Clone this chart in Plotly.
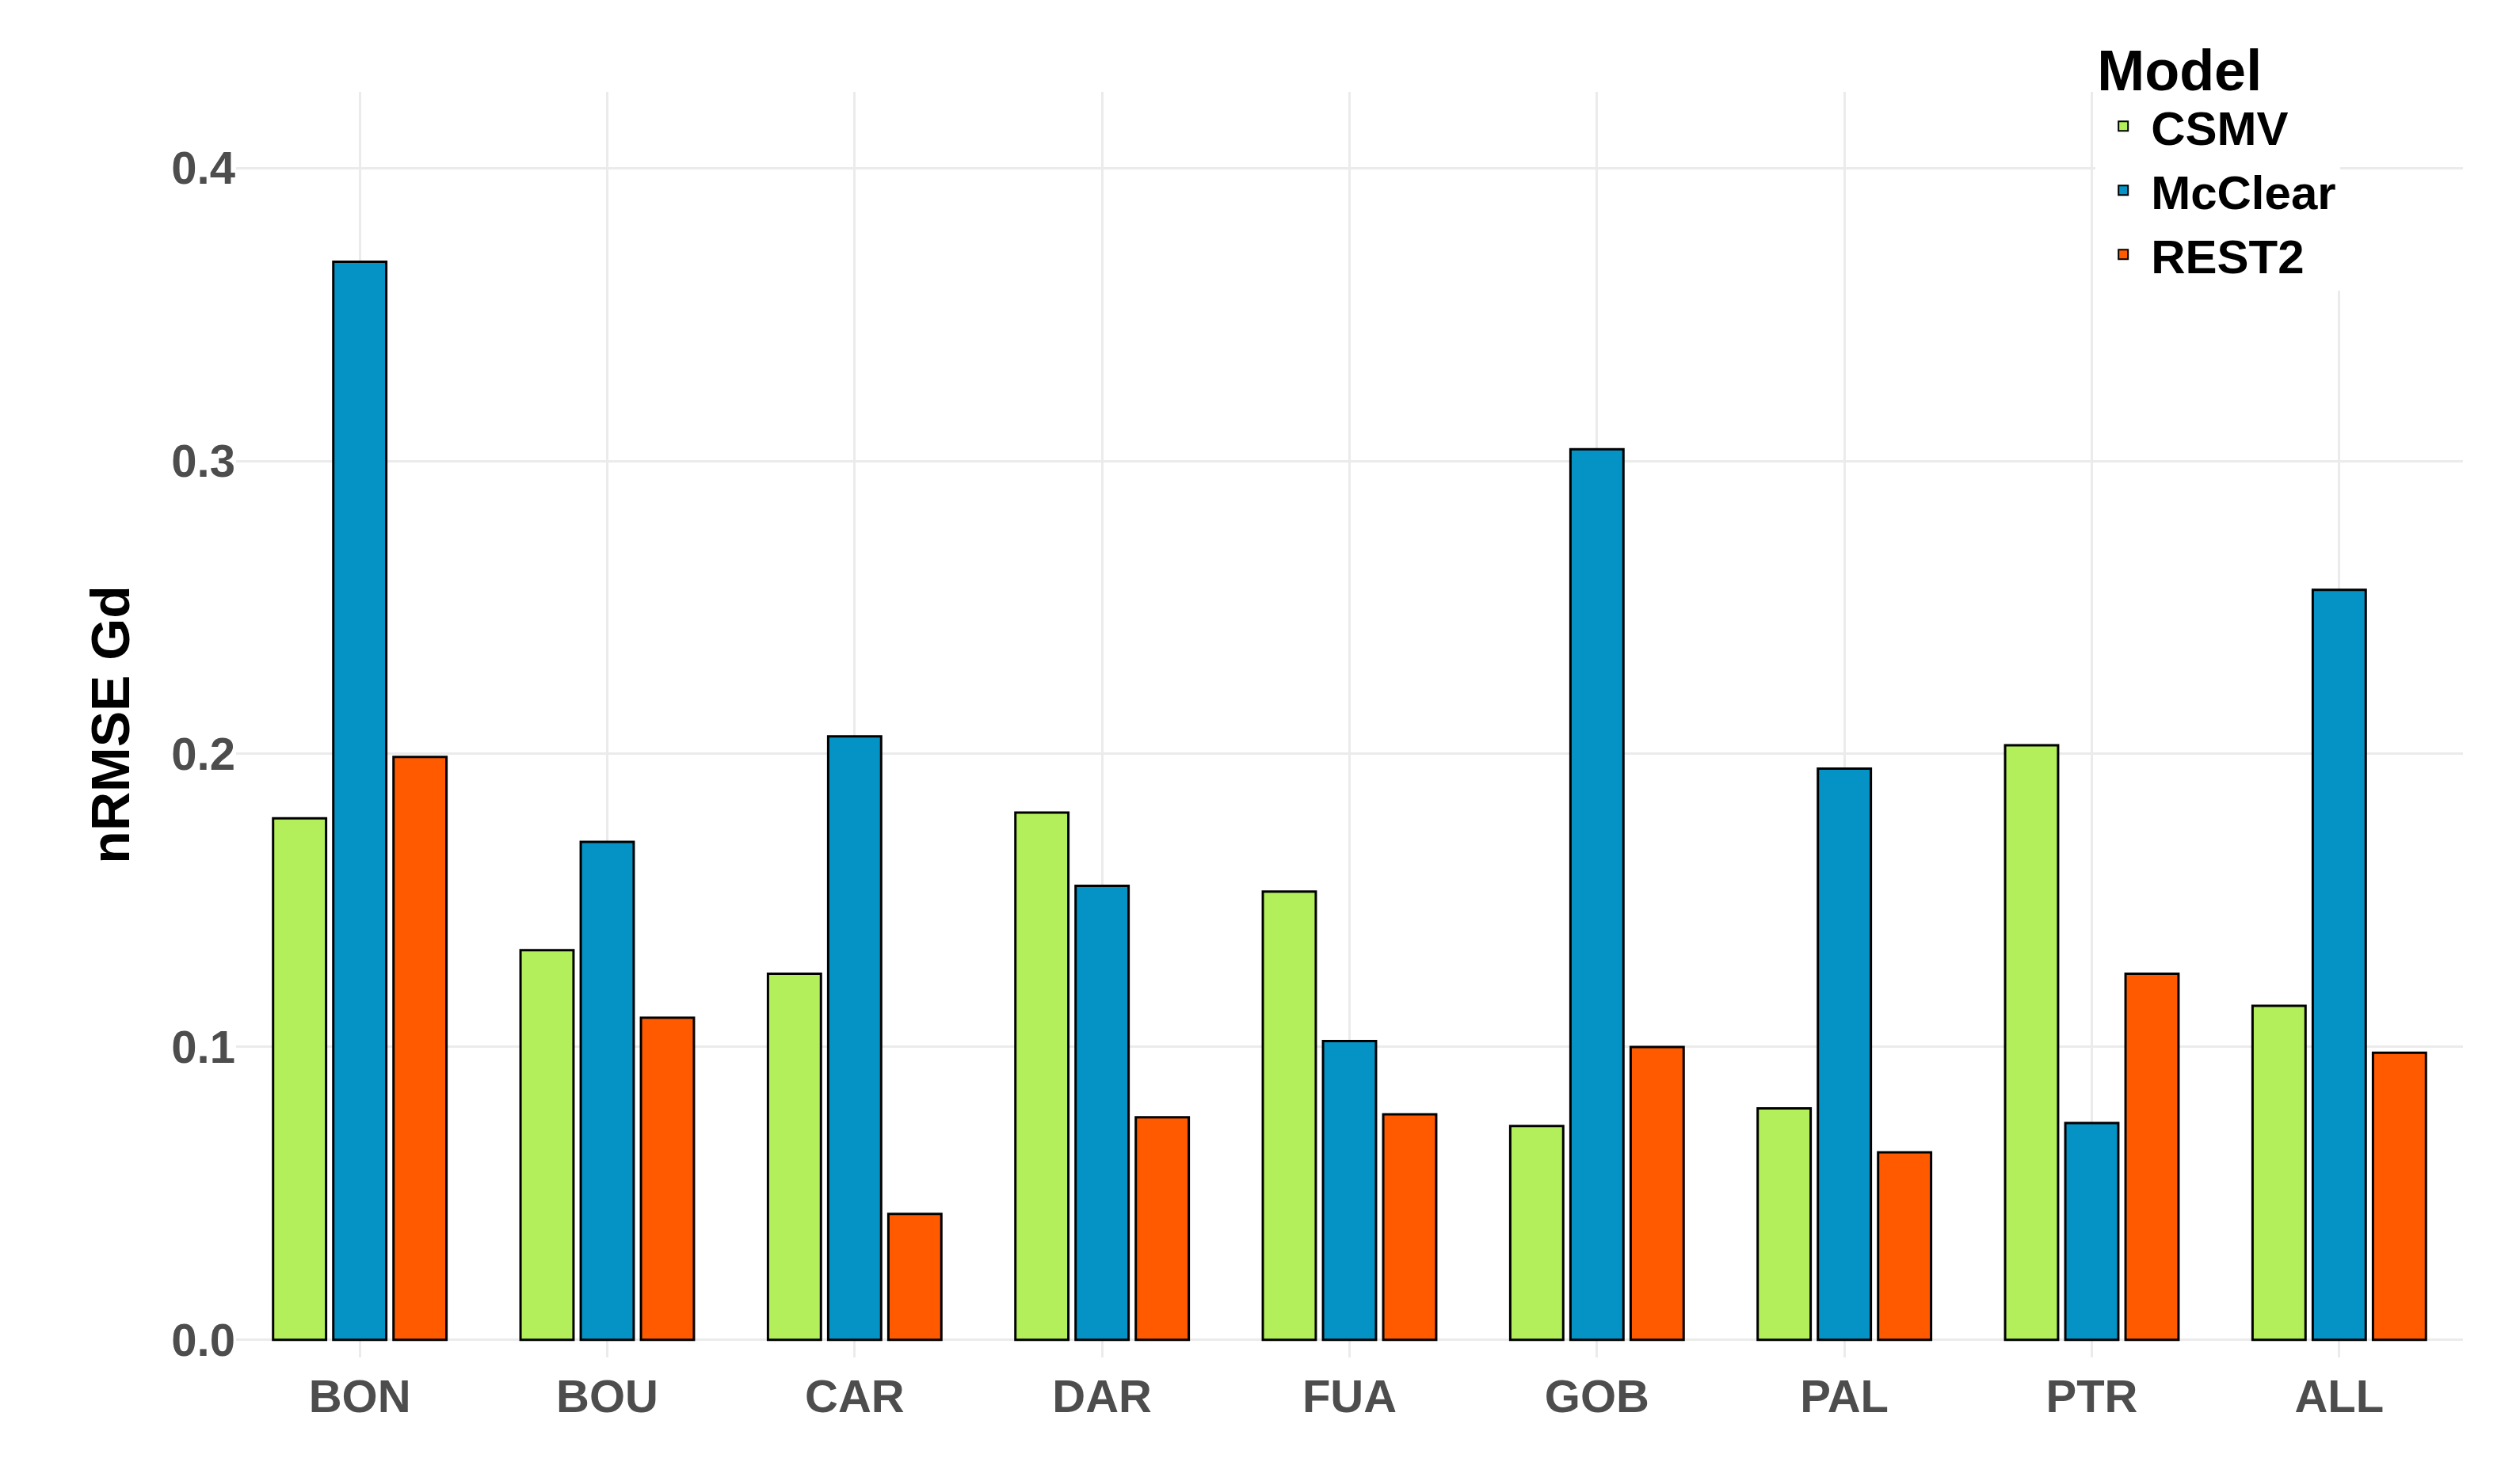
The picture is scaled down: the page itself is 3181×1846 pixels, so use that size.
import plotly.graph_objects as go

stations = ["BON", "BOU", "CAR", "DAR", "FUA", "GOB", "PAL", "PTR", "ALL"]
csmv = [0.178, 0.133, 0.125, 0.180, 0.153, 0.073, 0.079, 0.203, 0.114]
mcclear = [0.368, 0.170, 0.206, 0.155, 0.102, 0.304, 0.195, 0.074, 0.256]
rest2 = [0.199, 0.110, 0.043, 0.076, 0.077, 0.100, 0.064, 0.125, 0.098]

fig = go.Figure()
for name, vals, color in [("CSMV", csmv, "#B3EF5A"),
                          ("McClear", mcclear, "#0493C4"),
                          ("REST2", rest2, "#FF5A00")]:
    fig.add_trace(go.Bar(x=stations, y=vals, name="<b>" + name + "</b>", marker_color=color,
                         marker_line_color="black", marker_line_width=3))

fig.update_layout(
    width=3181, height=1846, barmode="group", bargap=0.27, bargroupgap=0.12,
    plot_bgcolor="white", paper_bgcolor="white",
    font=dict(family="Liberation Sans, Arial", size=58, color="#4D4D4D"),
    margin=dict(l=290, r=80, t=100, b=140),
    legend=dict(title=dict(text="<b>Model</b>", font=dict(size=72, color="black")),
                font=dict(size=60, color="black"), x=0.835, y=1.06,
                xanchor="left", yanchor="top", bgcolor="white",
                itemsizing="constant", itemwidth=60, tracegroupgap=20),
)
fig.update_xaxes(tickfont=dict(size=58, color="#4D4D4D"), ticklabelstandoff=10,
                 showgrid=True, gridcolor="#EBEBEB", gridwidth=3,
                 tickprefix="<b>", ticksuffix="</b>")
fig.update_yaxes(range=[-0.006, 0.426], tickvals=[0, 0.1, 0.2, 0.3, 0.4],
                 ticktext=["<b>0.0</b>", "<b>0.1</b>", "<b>0.2</b>", "<b>0.3</b>", "<b>0.4</b>"],
                 showgrid=True, gridcolor="#EBEBEB", gridwidth=3, zeroline=False,
                 title=dict(text="<b>nRMSE Gd</b>", font=dict(size=68, color="black"), standoff=30))

fig.write_html("out.html")
